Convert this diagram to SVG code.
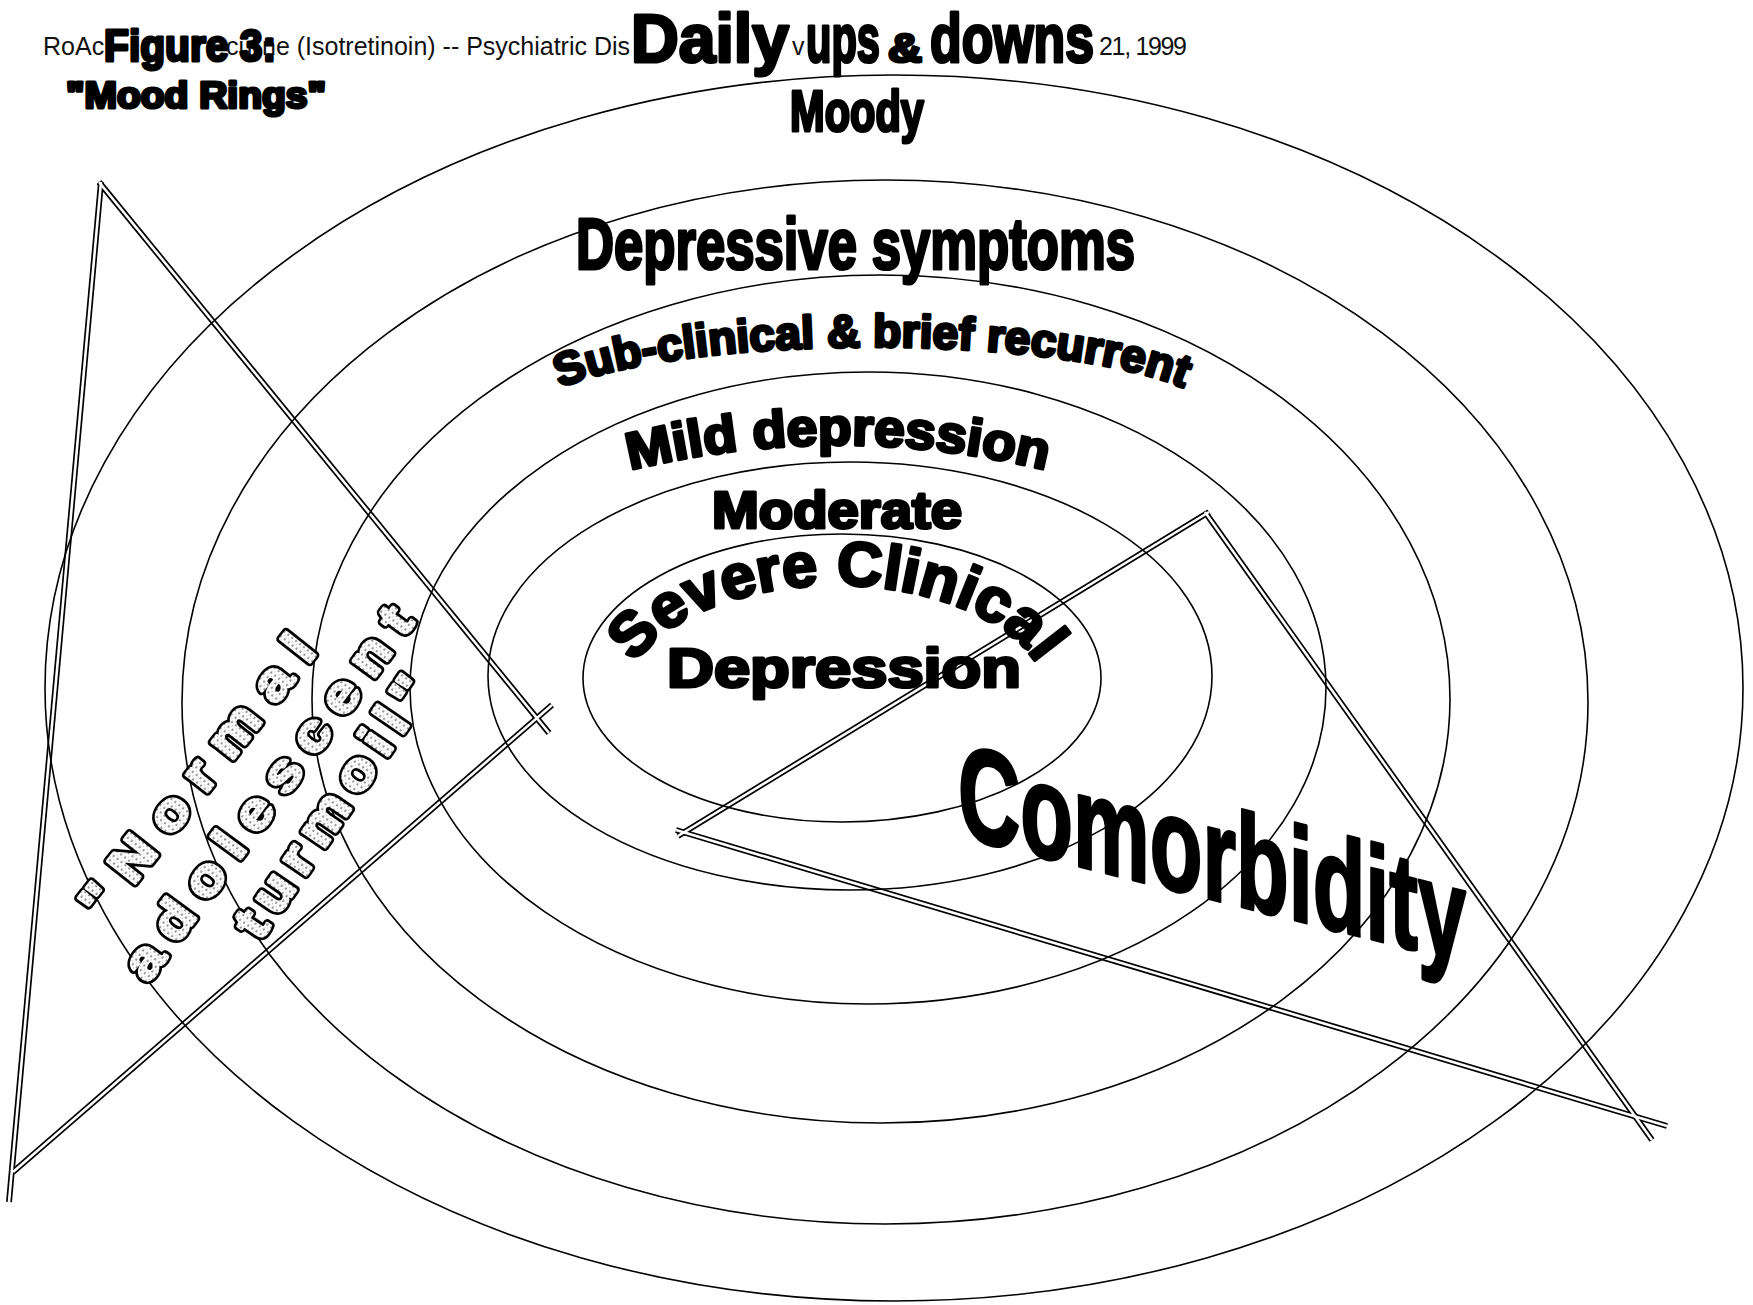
<svg xmlns="http://www.w3.org/2000/svg" width="1753" height="1305" viewBox="0 0 1753 1305">
<style>
.ring{fill:none;stroke:#000;stroke-width:1.6}
.dbl-o{fill:none;stroke:#000;stroke-width:6;stroke-linecap:butt}
.dbl-i{fill:none;stroke:#fff;stroke-width:2.6;stroke-linecap:butt}
.hdr{font-family:"Liberation Sans",Arial,sans-serif;font-size:25px;fill:#111}
.xheavy{font-family:"Liberation Sans",Arial,sans-serif;font-weight:bold;fill:#000;stroke:#000;stroke-width:3.2;stroke-linejoin:round}
.outl{font-family:"Liberation Sans",Arial,sans-serif;font-weight:bold;font-size:52px}
.outl-back{fill:#000;stroke:#000;stroke-width:8;stroke-linejoin:round}
.outl-front{fill:url(#speck);stroke:url(#speck);stroke-width:3;stroke-linejoin:round}
</style>
<defs>
<pattern id="speck" width="5" height="5" patternUnits="userSpaceOnUse">
<rect width="5" height="5" fill="#fff"/>
<rect x="0" y="0" width="2" height="2" fill="#9a9a9a"/>
<rect x="3" y="3" width="1" height="1" fill="#bbb"/>
</pattern>
<path id="pSub" d="M 556 390 A 345 72 0 0 1 1188 390"/>
<path id="pMild" d="M 626 471 Q 838 419 1050 471"/>
<path id="pSev" d="M 622 705 A 214 120 0 0 1 1050 705"/>
<g id="dlines">
<line x1="101" y1="182" x2="9" y2="1202"/>
<line x1="99" y1="182" x2="549" y2="733"/>
<line x1="552" y1="705" x2="13" y2="1172"/>
<line x1="1209" y1="512" x2="678" y2="836"/>
<line x1="676" y1="830" x2="1667" y2="1126"/>
<line x1="1205" y1="512" x2="1652" y2="1140"/>
</g>
<g id="normalText" class="outl">
<text transform="translate(104,923) rotate(-51.7) scale(1.15,1)" textLength="300" lengthAdjust="spacing">"Normal</text>
<text transform="translate(148,984) rotate(-53.5) scale(1.15,1)" textLength="391" lengthAdjust="spacing">adolescent</text>
<text transform="translate(260,942) rotate(-55.5) scale(1.15,1)" textLength="265" lengthAdjust="spacing">turmoil"</text>
</g>
</defs>
<rect width="1753" height="1305" fill="#fff"/>
<g id="connectors">
<use href="#dlines" class="dbl-o"/>
<use href="#dlines" class="dbl-i"/>
</g>
<g id="rings">
<ellipse id="ring1" class="ring" cx="842" cy="678" rx="259" ry="144"/>
<ellipse id="ring2" class="ring" cx="850" cy="676" rx="362" ry="214"/>
<ellipse id="ring3" class="ring" cx="868" cy="688" rx="458" ry="316"/>
<ellipse id="ring4" class="ring" cx="881" cy="699" rx="569" ry="424"/>
<ellipse id="ring5" class="ring" cx="885" cy="702" rx="703" ry="522"/>
<ellipse id="ring6" class="ring" cx="894" cy="688" rx="849" ry="613"/>
</g>
<g id="header">
<text class="hdr" x="43" y="55">RoAc</text>
<text class="hdr" x="226" y="55">cu</text>
<text class="hdr" x="262" y="55" textLength="368" lengthAdjust="spacing">ne (Isotretinoin) -- Psychiatric Dis</text>
<text class="hdr" x="792" y="55">v</text>
<text class="hdr" x="1099" y="55" textLength="88" lengthAdjust="spacing">21, 1999</text>
</g>
<g id="title">
<text class="xheavy" x="104" y="61" font-size="44" textLength="172" lengthAdjust="spacingAndGlyphs">Figure 3:</text>
<text class="xheavy" x="66" y="108" font-size="36" textLength="260" lengthAdjust="spacingAndGlyphs">"Mood Rings"</text>
</g>
<g id="label-daily">
<text class="xheavy" x="631" y="62" font-size="68" textLength="158" lengthAdjust="spacingAndGlyphs">Daily</text>
<text class="xheavy" x="806" y="62" font-size="68" textLength="74" lengthAdjust="spacingAndGlyphs">ups</text>
<text class="xheavy" x="888" y="62" font-size="40" textLength="34" lengthAdjust="spacingAndGlyphs">&amp;</text>
<text class="xheavy" x="930" y="62" font-size="68" textLength="164" lengthAdjust="spacingAndGlyphs">downs</text>
</g>
<g id="label-moody"><text class="xheavy" x="790" y="131" font-size="57" textLength="134" lengthAdjust="spacingAndGlyphs">Moody</text></g>
<g id="label-depressive"><text class="xheavy" x="576" y="269" font-size="72" textLength="559" lengthAdjust="spacingAndGlyphs">Depressive symptoms</text></g>
<g id="label-subclinical"><text class="xheavy" font-size="46" text-anchor="middle"><textPath href="#pSub" startOffset="50%" textLength="632" lengthAdjust="spacingAndGlyphs">Sub-clinical &amp; brief recurrent</textPath></text></g>
<g id="label-mild"><text class="xheavy" font-size="52" text-anchor="middle"><textPath href="#pMild" startOffset="50%" textLength="420" lengthAdjust="spacingAndGlyphs">Mild depression</textPath></text></g>
<g id="label-moderate"><text class="xheavy" x="712" y="528" font-size="52" textLength="250" lengthAdjust="spacingAndGlyphs">Moderate</text></g>
<g id="label-severe"><text class="xheavy" font-size="62" text-anchor="middle"><textPath href="#pSev" startOffset="50%" textLength="448" lengthAdjust="spacingAndGlyphs">Severe Clinical</textPath></text>
<text class="xheavy" x="667" y="687" font-size="56" textLength="354" lengthAdjust="spacingAndGlyphs">Depression</text></g>
<g id="label-comorbidity"><text class="xheavy" transform="translate(958,836) skewY(14)" x="0" y="0" font-size="134" textLength="508" lengthAdjust="spacingAndGlyphs">Comorbidity</text></g>
<g id="label-normal">
<use href="#normalText" class="outl-back"/>
<use href="#normalText" class="outl-front"/>
</g>
</svg>
